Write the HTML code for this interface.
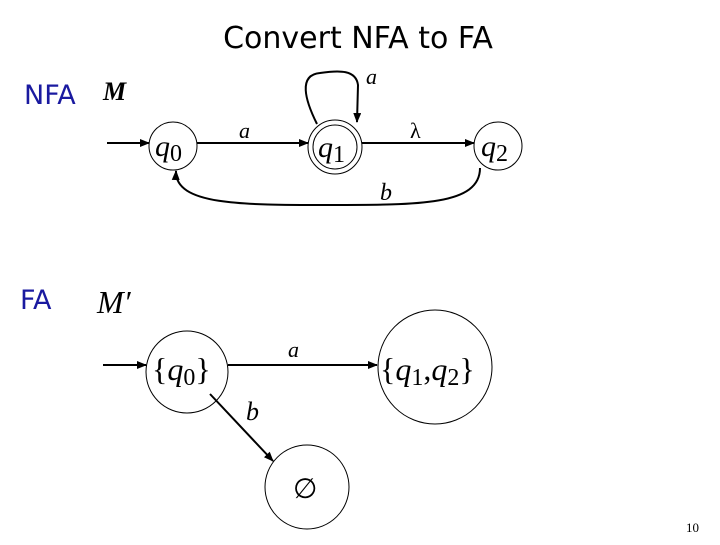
<!DOCTYPE html>
<html><head><style>
body{margin:0;background:#fff;width:720px;height:540px;overflow:hidden;font-family:"Liberation Sans",sans-serif}
</style></head><body>
<svg width="720" height="540" xmlns="http://www.w3.org/2000/svg">
<defs><marker id="ar" markerWidth="10" markerHeight="8" refX="9" refY="4" orient="auto" markerUnits="userSpaceOnUse"><path d="M0,0 L10,4 L0,8z" fill="#000"/></marker></defs>
<text x="358" y="48" font-size="30" text-anchor="middle" font-family="'DejaVu Sans',sans-serif">Convert NFA to FA</text>
<text x="24" y="104" font-size="27" fill="#1a1aa0" font-family="'DejaVu Sans',sans-serif">NFA</text>
<text x="20" y="309" font-size="27" fill="#1a1aa0" font-family="'DejaVu Sans',sans-serif">FA</text>
<g font-family="'Liberation Serif',serif" font-style="italic">
<text x="103" y="100" font-size="26" font-weight="bold">M</text>
<text x="97" y="313" font-size="32">M′</text>
</g>
<g fill="none" stroke="#000" stroke-width="2">
<line x1="107" y1="143" x2="149" y2="143" marker-end="url(#ar)"/>
<line x1="197" y1="143" x2="308" y2="143" marker-end="url(#ar)"/>
<line x1="362" y1="143" x2="474" y2="143" marker-end="url(#ar)"/>
<path d="M480,168 C480,205 420,205 330,205 C240,205 175,205 176,171" marker-end="url(#ar)"/>
<path d="M317,124 C305,100 298,75 320,73 C340,70 356,70 358,85 L357,122" marker-end="url(#ar)"/>
<line x1="103" y1="365" x2="146" y2="365" marker-end="url(#ar)"/>
<line x1="228" y1="365" x2="377" y2="365" marker-end="url(#ar)"/>
<line x1="210" y1="394" x2="273" y2="461" marker-end="url(#ar)"/>
</g>
<g fill="none" stroke="#000" stroke-width="1">
<circle cx="173" cy="146" r="24"/>
<circle cx="335" cy="147" r="27"/>
<circle cx="335" cy="147" r="22"/>
<circle cx="498" cy="146" r="24"/>
<circle cx="187" cy="372" r="41"/>
<circle cx="435" cy="367" r="57"/>
<circle cx="307" cy="487" r="42"/>
</g>
<g font-family="'Liberation Serif',serif" font-style="italic" font-size="30">
<text x="155" y="156">q<tspan font-style="normal" font-size="24" dy="5">0</tspan></text>
<text x="318" y="157">q<tspan font-style="normal" font-size="24" dy="5">1</tspan></text>
<text x="481" y="156">q<tspan font-style="normal" font-size="24" dy="5">2</tspan></text>
<text x="152" y="380" font-size="32"><tspan font-style="normal">{</tspan>q<tspan font-style="normal" font-size="24" dy="5">0</tspan><tspan font-style="normal" dy="-5">}</tspan></text>
<text x="380" y="380" font-size="32"><tspan font-style="normal">{</tspan>q<tspan font-style="normal" font-size="24" dy="5">1</tspan><tspan font-style="normal" dy="-5">,</tspan>q<tspan font-style="normal" font-size="24" dy="5">2</tspan><tspan font-style="normal" dy="-5">}</tspan></text>
<text x="239" y="138" font-size="22">a</text>
<text x="366" y="84" font-size="22">a</text>
<text x="410" y="138" font-size="22" font-style="normal">λ</text>
<text x="380" y="200" font-size="24">b</text>
<text x="288" y="357" font-size="22">a</text>
<text x="246" y="420" font-size="26">b</text>
<text x="293" y="498" font-size="28" font-style="normal">∅</text>
</g>
<text x="686" y="532" font-size="13" font-family="'Liberation Serif',serif">10</text>
</svg>
</body></html>
